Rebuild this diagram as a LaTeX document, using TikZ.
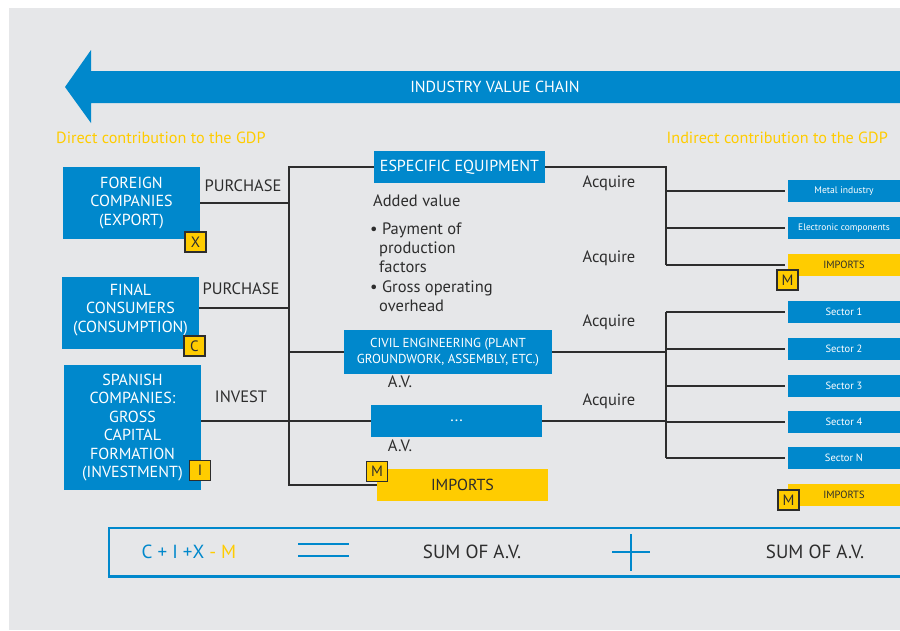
\documentclass[tikz,border=0pt]{standalone}
\usepackage{fontspec}
\setmainfont{PT Sans}
\definecolor{chainblue}{RGB}{0,136,204}
\definecolor{gdpyellow}{RGB}{255,204,0}
\definecolor{panelgray}{RGB}{230,231,233}
\definecolor{inkgray}{RGB}{45,45,45}
\begin{document}
\begin{tikzpicture}[x=1pt, y=-1pt,
  blockbox/.style={fill=chainblue, text=white, align=center, inner sep=0pt, font=\fontsize{16}{18.5}\selectfont},
  sectorbox/.style={fill=chainblue, text=white, minimum width=112pt, minimum height=22pt, inner sep=0pt, font=\fontsize{10.5}{12}\selectfont},
  importbox/.style={fill=gdpyellow, text=inkgray, inner sep=0pt},
  badge/.style={fill=gdpyellow, draw=inkgray, line width=1.2pt, minimum width=21pt, minimum height=20pt, inner sep=0pt, text=inkgray, font=\fontsize{15}{15}\selectfont},
  lbl/.style={text=inkgray, inner sep=0pt, text height=.7em, text depth=0pt, font=\fontsize{16.5}{18}\selectfont},
  link/.style={draw=inkgray, line width=1.2pt}]
\useasboundingbox (0,0) rectangle (900,630);
\fill[white] (0,0) rectangle (900,630);
\fill[panelgray] (9,8) rectangle (900,630);
% value chain arrow
\fill[chainblue] (900,71) -- (91,71) -- (91,50) -- (65,87) -- (91,123) -- (91,103) -- (900,103) -- cycle;
\node[text=white, font=\fontsize{16}{16}\selectfont] (chain) at (495,87) {INDUSTRY VALUE CHAIN};
\node[anchor=west, text=gdpyellow, inner sep=0pt, font=\fontsize{16.2}{16}\selectfont] (direct) at (56,138) {Direct contribution to the GDP};
\node[anchor=east, text=gdpyellow, inner sep=0pt, font=\fontsize{16.2}{16}\selectfont] (indirect) at (888,138) {Indirect contribution to the GDP};

% demand side
\node[blockbox, minimum width=137pt, minimum height=72pt] (foreign) at (131.5,203) {FOREIGN\\COMPANIES\\(EXPORT)};
\node[blockbox, minimum width=137pt, minimum height=72pt] (final) at (130.5,313) {FINAL\\CONSUMERS\\(CONSUMPTION)\\[-9pt]\mbox{}};
\node[blockbox, minimum width=137pt, minimum height=125pt] (spanish) at (132.5,427.5) {SPANISH\\COMPANIES:\\GROSS\\CAPITAL\\FORMATION\\(INVESTMENT)};

% industry
\node[blockbox, minimum width=171pt, minimum height=32pt] (equip) at (459.5,167) {ESPECIFIC EQUIPMENT};
\node[blockbox, minimum width=208pt, minimum height=44pt, font=\fontsize{13}{16}\selectfont] (civil) at (448,352) {CIVIL ENGINEERING (PLANT\\GROUNDWORK, ASSEMBLY, ETC.)};
\node[blockbox, minimum width=171pt, minimum height=32pt] (dots) at (456.5,421) {...};
\node[importbox, minimum width=171pt, minimum height=32pt, font=\fontsize{16}{16}\selectfont] (impL) at (462.5,485) {IMPORTS};

% suppliers
\node[sectorbox, font=\fontsize{9.6}{11}\selectfont] (metal) at (844,191) {Metal industry};
\node[sectorbox, font=\fontsize{9.4}{11}\selectfont] (elec) at (844,228) {Electronic components};
\node[importbox, minimum width=112pt, minimum height=22pt, font=\fontsize{10.5}{12}\selectfont] (impR) at (844,265) {IMPORTS};
\foreach \name/\y/\txt in {sec1/312/Sector 1, sec2/349/Sector 2, sec3/386/Sector 3, sec4/422/Sector 4, secN/458/Sector N}
{
	\node[sectorbox] (\name) at (844,\y) {\txt};
}
\node[importbox, minimum width=112pt, minimum height=22pt, font=\fontsize{10.5}{12}\selectfont] (impS) at (844,495) {IMPORTS};

\coordinate (ltrunk) at (289,0);
\coordinate (rtrunk) at (666,0);

% connectors
\draw[link] (equip.west) -- (equip.west -| ltrunk) -- (impL.west -| ltrunk) -- (impL.west);
\draw[link] (foreign.east) -- (foreign.east -| ltrunk);
\draw[link] ([yshift=5pt]final.east) -- ([yshift=5pt]final.east -| ltrunk);
\draw[link] (spanish.east |- dots.west) -- (dots.west);
\draw[link] (civil.west) -- (civil.west -| ltrunk);
\draw[link] (equip.east) -- (equip.east -| rtrunk) -- (impR.west -| rtrunk);
\draw[link] (civil.east) -- (civil.east -| rtrunk);
\draw[link] (dots.east) -- (dots.east -| rtrunk);
\draw[link] (sec1.west -| rtrunk) -- (secN.west -| rtrunk);
\foreach \name in {metal, elec, impR, sec1, sec2, sec3, sec4, secN}
{
	\draw[link] (\name.west -| rtrunk) -- ([xshift=-3pt]\name.west);
}

% labels
\node[lbl] (buy1) at (243,188) {PURCHASE};
\node[lbl] (buy2) at (241,291) {PURCHASE};
\node[lbl] (invest) at (241,399) {INVEST};
\node[lbl] (av1) at (400,384) {A.V.};
\node[lbl] (av2) at (400,448) {A.V.};
\foreach \name/\y in {acq1/184, acq2/259, acq3/323, acq4/402}
{
	\node[lbl] (\name) at (609,\y) {Acquire};
}
\node[lbl, anchor=west] (addval) at (373,203) {Added value};
\node[lbl, anchor=west] (pay) at (370,231) {\textbullet\ Payment of};
\node[lbl, anchor=west] (pay2) at (379,250) {production};
\node[lbl, anchor=west] (pay3) at (379,269) {factors};
\node[lbl, anchor=west] (gross) at (370,289) {\textbullet\ Gross operating};
\node[lbl, anchor=west] (gross2) at (379,308) {overhead};

% badges
\node[badge] (bx) at (195.5,242) {X};
\node[badge] (bc) at (194.5,346) {C};
\node[badge] (bi) at (200,470.5) {I};
\node[badge] (bm1) at (377,471.5) {M};
\node[badge] (bm2) at (787.5,280) {M};
\node[badge] (bm3) at (788.5,500) {M};

% totals
\draw[chainblue, line width=2.5pt] (900,528) -- (109,528) -- (109,576.5) -- (900,576.5);
\node[font=\fontsize{19}{19}\selectfont, inner sep=0pt] (gdp) at (189,552) {\textcolor{chainblue}{C + I +X} \textcolor{gdpyellow}{- M}};
\draw[chainblue, line width=2.5pt] (298,544) -- (349,544);
\draw[chainblue, line width=2.5pt] (298,556) -- (349,556);
\node[text=inkgray, font=\fontsize{19}{19}\selectfont, inner sep=0pt] (sumd) at (472,552) {SUM OF A.V.};
\draw[chainblue, line width=2.5pt] (612,552) -- (650,552);
\draw[chainblue, line width=2.5pt] (631,534) -- (631,571);
\node[text=inkgray, font=\fontsize{19}{19}\selectfont, inner sep=0pt] (sumi) at (815,552) {SUM OF A.V.};
\end{tikzpicture}
\end{document}
